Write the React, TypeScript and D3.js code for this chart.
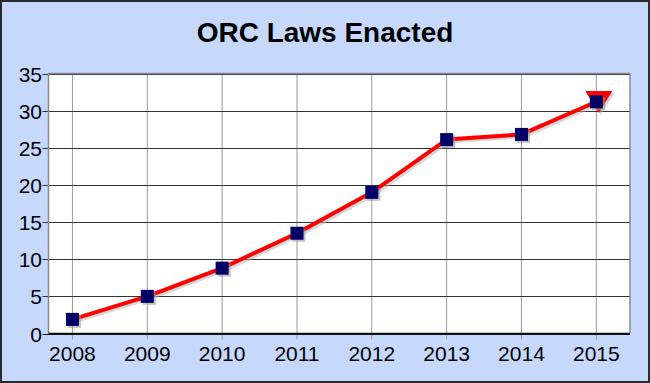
import React from "react";
import * as d3 from "d3";

const years = [2008, 2009, 2010, 2011, 2012, 2013, 2014, 2015];
const laws = [1.9, 5, 8.8, 13.5, 19, 26.1, 26.8, 31.2];
const extraYears = [2015];
const extraValues = [31.3];
const yTicks = [0, 5, 10, 15, 20, 25, 30, 35];
const title = "ORC Laws Enacted";

const W = 650;
const H = 383;
const L = 48.5;
const R = 630;
const T = 73.5;
const B = 333.5;

export default function App() {
  const x = d3.scaleLinear().domain([2007.68, 2015.45]).range([L, R]);
  const y = d3.scaleLinear().domain([0, 35]).range([B, T]);
  const line = d3
    .line<number>()
    .x((_, i) => x(years[i]))
    .y((d) => y(d));
  const pathD = line(laws) || "";
  const font = "'Liberation Sans', Arial, sans-serif";
  const sq = 13;
  return (
    <svg
      width={W}
      height={H}
      style={{ position: "absolute", left: 0, top: 0 }}
      fontFamily={font}
    >
      <rect x={1} y={1} width={W - 2} height={H - 2} fill="#c6d9fd" stroke="#2a2a2a" strokeWidth={2} />
      <text x={325} y={42} textAnchor="middle" fontSize={28} fontWeight="bold" fill="#000">
        {title}
      </text>
      <rect x={L} y={T} width={R - L} height={B - T} fill="#ffffff" />
      {years.map((yr) => (
        <line key={"vg" + yr} x1={x(yr)} x2={x(yr)} y1={T} y2={B + 6} stroke="#9a9a9a" strokeWidth={1} />
      ))}
      {yTicks.map((t) => (
        <line key={"hg" + t} x1={L - 6} x2={R} y1={Math.round(y(t)) + 0.5} y2={Math.round(y(t)) + 0.5} stroke={t === 0 ? "#111" : "#333"} strokeWidth={1} />
      ))}
      <line x1={L} x2={L} y1={T} y2={B} stroke="#888" strokeWidth={1.5} />
      <line x1={R} x2={R} y1={T} y2={B} stroke="#888" strokeWidth={1.5} />
      <line x1={L} x2={R} y1={T} y2={T} stroke="#888" strokeWidth={1.5} />
      <line x1={L} x2={R} y1={B} y2={B} stroke="#111" strokeWidth={1.5} />
      {yTicks.map((t) => (
        <text key={"yl" + t} x={42} y={y(t) + 8} textAnchor="end" fontSize={21} fill="#000">
          {t}
        </text>
      ))}
      {years.map((yr) => (
        <text key={"xl" + yr} x={x(yr)} y={361} textAnchor="middle" fontSize={21} fill="#000">
          {yr}
        </text>
      ))}
      <path d={pathD} fill="none" stroke="#b0b0b0" strokeOpacity={0.5} strokeWidth={4} transform="translate(2,2)" strokeLinejoin="round" />
      {extraYears.map((yr, i) => {
        const cx = x(yr) + 2.5;
        const cy = y(extraValues[i]);
        return (
          <g key={"tri" + yr}>
            <path d={`M${cx - 13.5 + 2},${cy - 10 + 2} L${cx + 13.5 + 2},${cy - 10 + 2} L${cx + 2},${cy + 12 + 2} Z`} fill="#aaa" opacity={0.5} />
            <path d={`M${cx - 13.5},${cy - 10} L${cx + 13.5},${cy - 10} L${cx},${cy + 12} Z`} fill="#ff0000" />
          </g>
        );
      })}
      <path d={pathD} fill="none" stroke="#ff0000" strokeWidth={4} strokeLinejoin="round" />
      {laws.map((v, i) => (
        <g key={"m" + i}>
          <rect x={x(years[i]) - sq / 2 + 2} y={y(v) - sq / 2 + 2} width={sq} height={sq} fill="#9a9a9a" opacity={0.6} />
          <rect x={x(years[i]) - sq / 2} y={y(v) - sq / 2} width={sq} height={sq} fill="#000066" />
        </g>
      ))}
    </svg>
  );
}
